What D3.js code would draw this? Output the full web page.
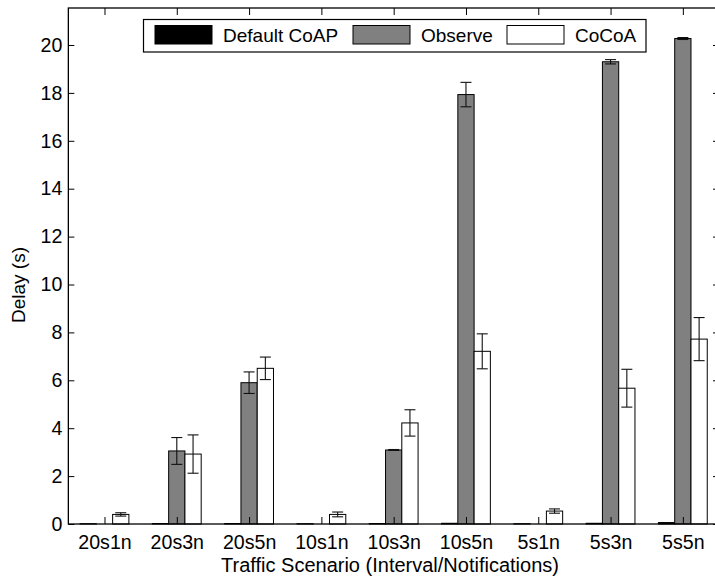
<!DOCTYPE html>
<html>
<head>
<meta charset="utf-8">
<script src="https://cdn.jsdelivr.net/npm/d3@7"></script>
<style>
  html, body { margin: 0; padding: 0; background: #fff; }
  svg { display: block; font-family: "Liberation Sans", Arial, Helvetica, sans-serif; }
</style>
</head>
<body>
<svg id="chart" width="715" height="576"></svg>
<script>
// Scenario labels and per-protocol mean delays (seconds) with error half-widths
const categories = ["20s1n", "20s3n", "20s5n", "10s1n", "10s3n", "10s5n", "5s1n", "5s3n", "5s5n"];
const defaultCoap = [0.01, 0.02, 0.02, 0.01, 0.02, 0.03, 0.01, 0.03, 0.06];
const defaultCoapErr = [0, 0, 0, 0, 0, 0, 0, 0, 0];
const observe = [0, 3.05, 5.90, 0, 3.09, 17.93, 0, 19.30, 20.27];
const observeErr = [0, 0.56, 0.45, 0, 0.02, 0.51, 0, 0.09, 0.04];
const cocoa = [0.40, 2.92, 6.50, 0.40, 4.22, 7.21, 0.54, 5.67, 7.72];
const cocoaErr = [0.07, 0.80, 0.47, 0.10, 0.55, 0.73, 0.09, 0.79, 0.90];
const yTicks = [0, 2, 4, 6, 8, 10, 12, 14, 16, 18, 20];

const seriesNames = ["Default CoAP", "Observe", "CoCoA"];
const seriesFill = ["#000000", "#808080", "#ffffff"];
const series = [
  { name: seriesNames[0], values: defaultCoap, err: defaultCoapErr, fill: seriesFill[0] },
  { name: seriesNames[1], values: observe, err: observeErr, fill: seriesFill[1] },
  { name: seriesNames[2], values: cocoa, err: cocoaErr, fill: seriesFill[2] }
];

const svg = d3.select("#chart");
const plotLeft = 68.35, plotRight = 719, plotTop = 8, plotBottom = 524;
const tickFont = 19.6, titleFont = 20, legendFont = 19;

const x = d3.scaleLinear().domain([0.5, categories.length + 0.5]).range([plotLeft, plotRight]);
const y = d3.scaleLinear().domain([0, (plotBottom - plotTop) / 23.95]).range([plotBottom, plotTop]);

const offset = 0.225;          // bar spacing inside a group, in category units
const barW = x(offset) - x(0);
const capW = 11;

const plot = svg.append("g");

// bars
series.forEach((s, si) => {
  const shift = (si - 1) * offset;
  plot.selectAll(null)
    .data(s.values)
    .enter()
    .append("rect")
    .attr("x", (d, i) => x(i + 1 + shift) - barW / 2)
    .attr("y", d => y(d))
    .attr("width", barW)
    .attr("height", d => y(0) - y(d))
    .attr("fill", s.fill)
    .attr("stroke", "#000")
    .attr("stroke-width", 1);
});

// error bars
series.forEach((s, si) => {
  const shift = (si - 1) * offset;
  const pts = s.values.map((v, i) => ({ v, e: s.err[i], i })).filter(p => p.e > 0);
  const g = plot.selectAll(null).data(pts).enter().append("g")
    .attr("stroke", "#111").attr("stroke-width", 1.1);
  g.append("line")
    .attr("x1", p => x(p.i + 1 + shift)).attr("x2", p => x(p.i + 1 + shift))
    .attr("y1", p => y(p.v - p.e)).attr("y2", p => y(p.v + p.e));
  g.append("line")
    .attr("x1", p => x(p.i + 1 + shift) - capW / 2).attr("x2", p => x(p.i + 1 + shift) + capW / 2)
    .attr("y1", p => y(p.v + p.e)).attr("y2", p => y(p.v + p.e));
  g.append("line")
    .attr("x1", p => x(p.i + 1 + shift) - capW / 2).attr("x2", p => x(p.i + 1 + shift) + capW / 2)
    .attr("y1", p => y(p.v - p.e)).attr("y2", p => y(p.v - p.e));
});

// axes with inward ticks on all four sides
const catIdx = categories.map((c, i) => i + 1);

const axL = svg.append("g").attr("transform", `translate(${plotLeft},0)`)
  .call(d3.axisLeft(y).tickValues(yTicks).tickSize(-6).tickPadding(6).tickFormat(d3.format("d")));
const axR = svg.append("g").attr("transform", `translate(${plotRight},0)`)
  .call(d3.axisRight(y).tickValues(yTicks).tickSize(-6).tickFormat(""));
const axB = svg.append("g").attr("transform", `translate(0,${plotBottom})`)
  .call(d3.axisBottom(x).tickValues(catIdx).tickSize(-7).tickPadding(11)
    .tickFormat(d => categories[d - 1]));
const axT = svg.append("g").attr("transform", `translate(0,${plotTop})`)
  .call(d3.axisTop(x).tickValues(catIdx).tickSize(-7).tickFormat(""));

[axL, axR, axB, axT].forEach(a => {
  a.select(".domain").remove();
  a.selectAll(".tick line").attr("stroke", "#000").attr("stroke-width", 1);
  a.selectAll("text").attr("fill", "#000").style("font-size", tickFont + "px")
    .style("font-family", '"Liberation Sans", Arial, Helvetica, sans-serif');
});
svg.append("rect")
  .attr("x", plotLeft).attr("y", plotTop).attr("width", plotRight - plotLeft).attr("height", plotBottom - plotTop)
  .attr("fill", "none").attr("stroke", "#000").attr("stroke-width", 1.3);

// axis titles
svg.append("text")
  .attr("transform", `translate(25,285) rotate(-90)`)
  .attr("text-anchor", "middle")
  .style("font-size", "19px")
  .text("Delay (s)");
svg.append("text")
  .attr("x", 390).attr("y", 572)
  .attr("text-anchor", "middle")
  .style("font-size", titleFont + "px")
  .text("Traffic Scenario (Interval/Notifications)");

// legend
const lg = svg.append("g");
lg.append("rect")
  .attr("x", 143.5).attr("y", 19.5).attr("width", 502.5).attr("height", 32.5)
  .attr("fill", "#fff").attr("stroke", "#000").attr("stroke-width", 1.2);
const legX = [155, 353, 507];
series.forEach((s, i) => {
  lg.append("rect")
    .attr("x", legX[i]).attr("y", 25.5).attr("width", 57).attr("height", 18.5)
    .attr("fill", s.fill).attr("stroke", "#000").attr("stroke-width", 1);
  lg.append("text")
    .attr("x", legX[i] + 68).attr("y", 42.3)
    .style("font-size", legendFont + "px")
    .text(s.name);
});
</script>
</body>
</html>
